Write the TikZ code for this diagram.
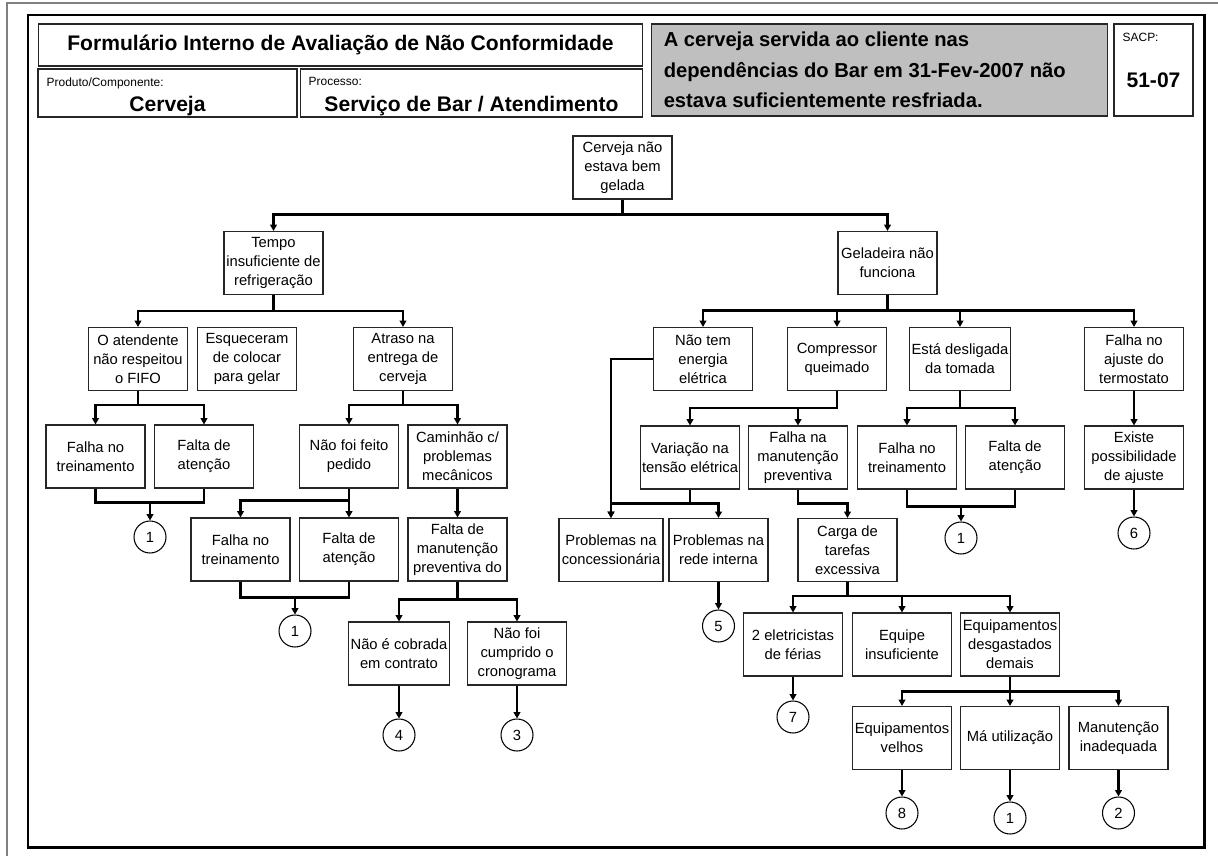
\documentclass[tikz,border=0pt]{standalone}
\usepackage{fontspec}
\setmainfont{Liberation Sans}
\usetikzlibrary{arrows.meta}

\begin{document}
\begin{tikzpicture}[
  x=0.02cm,y=-0.02cm,
  font=\fontsize{8.4}{10.8}\selectfont,
  box/.style={draw=black!85,line width=0.6pt,align=center,minimum width=1.98cm,minimum height=1.26cm,inner sep=1pt},
  widebox/.style={box,minimum width=2.08cm},
  num/.style={draw=black,line width=0.6pt,circle,minimum size=0.64cm,inner sep=0pt},
  lnk/.style={draw=black,line width=1.2pt},
  arr/.style={lnk,-{Triangle[length=3.6pt,width=3.8pt]}},
  cell/.style={draw=black!85,line width=0.6pt,inner sep=0pt},
  big/.style={font=\fontsize{12}{14}\selectfont\bfseries},
  lbl/.style={font=\fontsize{6.8}{8}\selectfont},
]

\useasboundingbox (0,0) rectangle (1218,856);
\draw[black!50,line width=1pt] (7,856) -- (7,3) -- (1218,3);
\draw[line width=1.7pt] (28,15) rectangle (1204,847);

\node[cell,big,minimum width=12.1cm,minimum height=0.84cm] (title) at (340.5,45) {Formulário Interno de Avaliação de Não Conformidade};
\node[cell,minimum width=5.18cm,minimum height=0.96cm] (prod) at (167.5,93) {};
\node[cell,minimum width=6.86cm,minimum height=0.96cm] (proc) at (471.5,93) {};
\node[lbl,anchor=north west] (prodlbl) at ([shift={(3,3)}]prod.north west) {Produto/Componente:};
\node[lbl,anchor=north west] (proclbl) at ([shift={(3,3)}]proc.north west) {Processo:};
\node[big] (prodval) at (167.5,106) {Cerveja};
\node[big] (procval) at (471.5,106) {Serviço de Bar / Atendimento};
\node[cell,fill=black!25,minimum width=9.14cm,minimum height=1.84cm] (desc) at (879.5,70) {};
\node[anchor=west,align=left,font=\fontsize{11.5}{17.5}\selectfont\bfseries] (desctxt) at ([xshift=4]desc.west) {A cerveja servida ao cliente nas\\dependências do Bar em 31-Fev-2007 não\\estava suficientemente resfriada.};
\node[cell,minimum width=1.58cm,minimum height=1.84cm] (sacp) at (1153.5,70) {};
\node[lbl,anchor=north west] (sacplbl) at ([shift={(3,3)}]sacp.north west) {SACP:};
\node[big] (sacpval) at (1153.5,80) {51-07};

\node[box] (root) at (622.5,167.5) {Cerveja não\\estava bem\\gelada};
\node[box] (tempo) at (273.5,263) {Tempo\\insuficiente de\\refrigeração};
\node[box] (gel) at (887.5,263) {Geladeira não\\funciona};

\node[box] (fifo) at (138,359) {O atendente\\não respeitou\\o FIFO};
\node[box] (esq) at (247,359) {Esqueceram\\de colocar\\para gelar};
\node[box] (atraso) at (403,359) {Atraso na\\entrega de\\cerveja};
\node[box] (energia) at (703,359) {Não tem\\energia\\elétrica};
\node[box] (compr) at (837,359) {Compressor\\queimado};
\node[box] (esta) at (960,359) {Está desligada\\da tomada};
\node[box] (termo) at (1134,359) {Falha no\\ajuste do\\termostato};

\node[box] (falha1) at (95.5,456.5) {Falha no\\treinamento};
\node[box] (falta1) at (204,456.5) {Falta de\\atenção};
\node[box] (pedido) at (349,456.5) {Não foi feito\\pedido};
\node[box] (caminhao) at (457.5,456.5) {Caminhão c/\\problemas\\mecânicos};
\node[box] (variacao) at (690,457.5) {Variação na\\tensão elétrica};
\node[box] (prevent) at (798,457.5) {Falha na\\manutenção\\preventiva};
\node[box] (falha3) at (907,457.5) {Falha no\\treinamento};
\node[box] (falta3) at (1015,457.5) {Falta de\\atenção};
\node[box] (existe) at (1134,457.5) {Existe\\possibilidade\\de ajuste};

\node[box] (falha2) at (240.5,549.5) {Falha no\\treinamento};
\node[box] (falta2) at (349,549.5) {Falta de\\atenção};
\node[box] (manut) at (457.5,549.5) {Falta de\\manutenção\\preventiva do};
\node[widebox] (conc) at (611,550) {Problemas na\\concessionária};
\node[box] (rede) at (718.5,550) {Problemas na\\rede interna};
\node[box] (carga) at (847.5,550) {Carga de\\tarefas\\excessiva};

\node[box] (naocob) at (399,653.5) {Não é cobrada\\em contrato};
\node[box] (naocump) at (517,653.5) {Não foi\\cumprido o\\cronograma};
\node[box] (eletr) at (793,644.5) {2 eletricistas\\de férias};
\node[box] (equipe) at (902,644.5) {Equipe\\insuficiente};
\node[box] (desg) at (1010,644.5) {Equipamentos\\desgastados\\demais};

\node[box] (velhos) at (902,738) {Equipamentos\\velhos};
\node[box] (mauso) at (1010,738) {Má utilização};
\node[box] (inadeq) at (1118.5,738) {Manutenção\\inadequada};

\node[num] (c1a) at (150,537) {1};
\node[num] (c1b) at (295,631) {1};
\node[num] (c4) at (399,735) {4};
\node[num] (c3) at (517,735) {3};
\node[num] (c5) at (718.5,626) {5};
\node[num] (c1c) at (961,538) {1};
\node[num] (c6) at (1134,533) {6};
\node[num] (c7) at (793,717) {7};
\node[num] (c8) at (902,813) {8};
\node[num] (c1d) at (1010,818) {1};
\node[num] (c2) at (1118.5,813) {2};

\draw[arr] (root.south) -- ++(0,15) -| (tempo.north);
\draw[arr] (root.south) -- ++(0,15) -| (gel.north);
\draw[arr] (tempo.south) -- ++(0,16) -| (fifo.north);
\draw[arr] (tempo.south) -- ++(0,16) -| (atraso.north);
\draw[arr] (fifo.south) -- ++(0,14) -| (falha1.north);
\draw[arr] (fifo.south) -- ++(0,14) -| (falta1.north);
\draw[arr] (atraso.south) -- ++(0,14) -| (pedido.north);
\draw[arr] (atraso.south) -- ++(0,14) -| (caminhao.north);
\draw[lnk] (falha1.south) -- ++(0,14) -| (falta1.south);
\draw[arr] (falha1.south -| c1a) ++(0,14) -- (c1a.north);
\draw[arr] (pedido) -- (falta2);
\draw[arr] (pedido.south) -- ++(0,12) -| (falha2.north);
\draw[arr] (caminhao) -- (manut);
\draw[lnk] (falha2.south) -- ++(0,16) -| (falta2.south);
\draw[arr] (falha2.south -| c1b) ++(0,16) -- (c1b.north);
\draw[arr] (manut.south) -- ++(0,18) -| (naocob.north);
\draw[arr] (manut.south) -- ++(0,18) -| (naocump.north);
\draw[arr] (naocob) -- (c4);
\draw[arr] (naocump) -- (c3);

\draw[arr] (gel.south) -- ++(0,15.5) -| (energia.north);
\draw[arr] (gel.south) -- ++(0,15.5) -| (compr.north);
\draw[arr] (gel.south) -- ++(0,15.5) -| (esta.north);
\draw[arr] (gel.south) -- ++(0,15.5) -| (termo.north);
\draw[arr] (energia.west) -| (conc.north);
\draw[arr] (compr.south) -- ++(0,17) -| (variacao.north);
\draw[arr] (compr.south) -- ++(0,17) -| (prevent.north);
\draw[arr] (variacao.south) -- ++(0,14) -| (conc.north);
\draw[arr] (variacao.south) -- ++(0,14) -| (rede.north);
\draw[arr] (prevent.south) -- ++(0,14) -| (carga.north);
\draw[arr] (rede) -- (c5);
\draw[arr] (esta.south) -- ++(0,17) -| (falha3.north);
\draw[arr] (esta.south) -- ++(0,17) -| (falta3.north);
\draw[lnk] (falha3.south) -- ++(0,17) -| (falta3.south);
\draw[arr] (falha3.south -| c1c) ++(0,17) -- (c1c.north);
\draw[arr] (termo) -- (existe);
\draw[arr] (existe) -- (c6);
\draw[arr] (carga.south) -- ++(0,14) -| (eletr.north);
\draw[arr] (carga.south) -- ++(0,14) -| (equipe.north);
\draw[arr] (carga.south) -- ++(0,14) -| (desg.north);
\draw[arr] (eletr) -- (c7);
\draw[arr] (desg.south) -- ++(0,15) -| (velhos.north);
\draw[arr] (desg.south) -- ++(0,15) -| (mauso.north);
\draw[arr] (desg.south) -- ++(0,15) -| (inadeq.north);
\draw[arr] (velhos) -- (c8);
\draw[arr] (mauso) -- (c1d);
\draw[arr] (inadeq) -- (c2);
\end{tikzpicture}
\end{document}
